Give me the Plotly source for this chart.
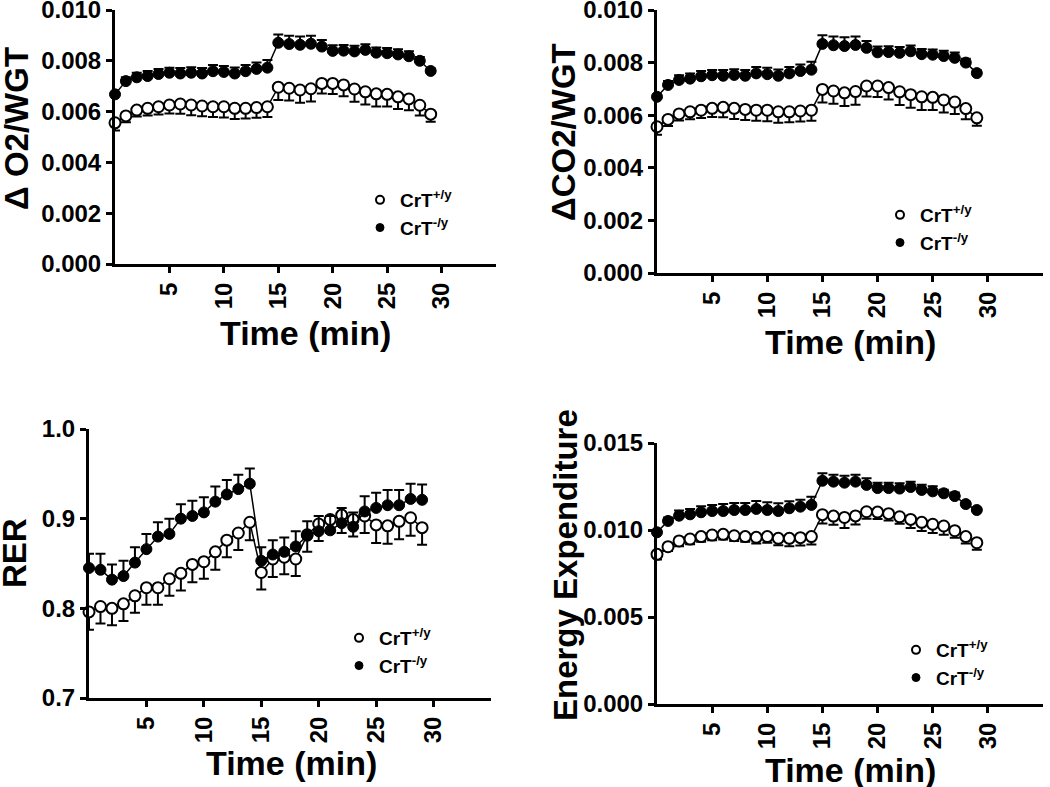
import plotly.graph_objects as go

W, H = 1050, 787
FONT = "Liberation Sans"

time_min = list(range(30))
legend_names = ["CrT<sup>+/y</sup>", "CrT<sup>-/y</sup>"]

# delta O2 / weight
o2_wt = [0.00556, 0.00583, 0.00606, 0.00613, 0.00619, 0.00626, 0.00630, 0.00626, 0.00622, 0.00619,
         0.00619, 0.00613, 0.00613, 0.00616, 0.00619, 0.00696, 0.00692, 0.00685, 0.00690, 0.00711,
         0.00711, 0.00705, 0.00689, 0.00678, 0.00670, 0.00668, 0.00658, 0.00650, 0.00625, 0.00590]
o2_wt_err = [0.00030, 0.00025, 0.00025, 0.00028, 0.00030, 0.00033, 0.00038, 0.00040, 0.00040, 0.00040,
             0.00042, 0.00042, 0.00040, 0.00040, 0.00040, 0.00050, 0.00048, 0.00050, 0.00050, 0.00040,
             0.00042, 0.00045, 0.00050, 0.00050, 0.00050, 0.00048, 0.00048, 0.00045, 0.00040, 0.00030]
o2_ko = [0.00668, 0.00720, 0.00735, 0.00740, 0.00748, 0.00753, 0.00750, 0.00753, 0.00750, 0.00759,
         0.00756, 0.00750, 0.00759, 0.00768, 0.00773, 0.00871, 0.00866, 0.00863, 0.00867, 0.00856,
         0.00839, 0.00840, 0.00837, 0.00843, 0.00832, 0.00830, 0.00825, 0.00818, 0.00800, 0.00760]
o2_ko_err = [0.00008, 0.00015, 0.00018, 0.00020, 0.00020, 0.00020, 0.00022, 0.00022, 0.00022, 0.00024,
             0.00024, 0.00024, 0.00024, 0.00025, 0.00030, 0.00033, 0.00033, 0.00033, 0.00032, 0.00026,
             0.00022, 0.00022, 0.00022, 0.00022, 0.00020, 0.00020, 0.00020, 0.00020, 0.00015, 0.00010]

# delta CO2 / weight
co2_wt = [0.00556, 0.00584, 0.00605, 0.00613, 0.00619, 0.00626, 0.00630, 0.00626, 0.00622, 0.00619,
          0.00619, 0.00613, 0.00613, 0.00616, 0.00619, 0.00698, 0.00692, 0.00685, 0.00690, 0.00711,
          0.00711, 0.00705, 0.00689, 0.00678, 0.00670, 0.00668, 0.00658, 0.00650, 0.00625, 0.00590]
co2_wt_err = [0.00030, 0.00025, 0.00025, 0.00028, 0.00030, 0.00033, 0.00038, 0.00040, 0.00040, 0.00040,
              0.00042, 0.00042, 0.00040, 0.00040, 0.00040, 0.00050, 0.00048, 0.00050, 0.00050, 0.00040,
              0.00042, 0.00045, 0.00050, 0.00050, 0.00050, 0.00048, 0.00048, 0.00045, 0.00040, 0.00030]
co2_ko = [0.00670, 0.00715, 0.00734, 0.00739, 0.00748, 0.00752, 0.00750, 0.00753, 0.00750, 0.00759,
          0.00756, 0.00750, 0.00759, 0.00768, 0.00773, 0.00871, 0.00866, 0.00863, 0.00867, 0.00856,
          0.00839, 0.00840, 0.00837, 0.00843, 0.00832, 0.00830, 0.00825, 0.00818, 0.00800, 0.00760]
co2_ko_err = [0.00008, 0.00015, 0.00018, 0.00020, 0.00020, 0.00020, 0.00022, 0.00022, 0.00022, 0.00024,
              0.00024, 0.00024, 0.00024, 0.00025, 0.00030, 0.00033, 0.00033, 0.00033, 0.00032, 0.00026,
              0.00022, 0.00022, 0.00022, 0.00022, 0.00020, 0.00020, 0.00020, 0.00020, 0.00015, 0.00010]

# respiratory exchange ratio
rer_wt = [0.796, 0.802, 0.800, 0.805, 0.814, 0.823, 0.823, 0.833, 0.839, 0.849,
          0.852, 0.863, 0.876, 0.884, 0.896, 0.840, 0.855, 0.857, 0.855, 0.882,
          0.894, 0.899, 0.904, 0.899, 0.903, 0.893, 0.892, 0.897, 0.901, 0.890]
rer_wt_err = [0.020, 0.019, 0.019, 0.019, 0.019, 0.019, 0.019, 0.019, 0.019, 0.020,
              0.019, 0.020, 0.019, 0.019, 0.020, 0.019, 0.020, 0.019, 0.019, 0.019,
              0.019, 0.015, 0.020, 0.019, 0.019, 0.020, 0.020, 0.020, 0.020, 0.019]
rer_ko = [0.845, 0.843, 0.832, 0.836, 0.851, 0.866, 0.880, 0.883, 0.900, 0.903,
          0.907, 0.919, 0.927, 0.933, 0.939, 0.853, 0.860, 0.863, 0.869, 0.881,
          0.886, 0.887, 0.895, 0.891, 0.908, 0.912, 0.915, 0.915, 0.922, 0.921]
rer_ko_err = [0.016, 0.018, 0.017, 0.017, 0.017, 0.017, 0.016, 0.017, 0.016, 0.017,
              0.017, 0.017, 0.016, 0.016, 0.017, 0.015, 0.016, 0.016, 0.017, 0.016,
              0.017, 0.016, 0.017, 0.016, 0.017, 0.017, 0.017, 0.017, 0.017, 0.017]

# energy expenditure
ee_wt = [0.00860, 0.00904, 0.00937, 0.00948, 0.00962, 0.00971, 0.00975, 0.00967, 0.00962, 0.00958,
         0.00962, 0.00952, 0.00952, 0.00956, 0.00962, 0.01088, 0.01080, 0.01072, 0.01081, 0.01105,
         0.01103, 0.01094, 0.01076, 0.01061, 0.01044, 0.01033, 0.01023, 0.00996, 0.00962, 0.00927]
ee_wt_err = [0.00030, 0.00025, 0.00030, 0.00030, 0.00030, 0.00030, 0.00030, 0.00030, 0.00030, 0.00035,
             0.00035, 0.00040, 0.00045, 0.00045, 0.00045, 0.00050, 0.00050, 0.00060, 0.00050, 0.00040,
             0.00040, 0.00040, 0.00040, 0.00050, 0.00050, 0.00050, 0.00050, 0.00040, 0.00040, 0.00040]
ee_ko = [0.00987, 0.01052, 0.01082, 0.01090, 0.01102, 0.01109, 0.01109, 0.01115, 0.01115, 0.01121,
         0.01115, 0.01109, 0.01125, 0.01134, 0.01144, 0.01283, 0.01278, 0.01272, 0.01278, 0.01259,
         0.01241, 0.01241, 0.01238, 0.01247, 0.01230, 0.01222, 0.01211, 0.01195, 0.01149, 0.01115]
ee_ko_err = [0.00010, 0.00020, 0.00030, 0.00030, 0.00035, 0.00035, 0.00040, 0.00040, 0.00040, 0.00045,
             0.00045, 0.00045, 0.00040, 0.00040, 0.00047, 0.00043, 0.00040, 0.00040, 0.00040, 0.00038,
             0.00030, 0.00030, 0.00030, 0.00030, 0.00030, 0.00030, 0.00020, 0.00020, 0.00010, 0.00010]

x_ticks = [5, 10, 15, 20, 25, 30]


def px_x(left, right):
    return [left / W, right / W]


def px_y(top, bottom):
    return [1 - bottom / H, 1 - top / H]


# pixel layout of each panel
panels = [
    dict(wt=o2_wt, wt_err=o2_wt_err, ko=o2_ko, ko_err=o2_ko_err,
         xpx=(115, 496), ypx=(10, 264), yrange=[0, 0.010],
         yticks=[0, 0.002, 0.004, 0.006, 0.008, 0.010], fmt=".3f",
         ytitle="Δ O2/WGT", ytitle_xy=(16, 129), xtitle_xy=(305, 333),
         legend_xy=(360, 181)),
    dict(wt=co2_wt, wt_err=co2_wt_err, ko=co2_ko, ko_err=co2_ko_err,
         xpx=(657, 1043), ypx=(10, 273), yrange=[0, 0.010],
         yticks=[0, 0.002, 0.004, 0.006, 0.008, 0.010], fmt=".3f",
         ytitle="ΔCO2/WGT", ytitle_xy=(563, 132), xtitle_xy=(850, 342),
         legend_xy=(880, 196)),
    dict(wt=rer_wt, wt_err=rer_wt_err, ko=rer_ko, ko_err=rer_ko_err,
         xpx=(89, 491), ypx=(429, 698), yrange=[0.7, 1.0],
         yticks=[0.7, 0.8, 0.9, 1.0], fmt=".1f",
         ytitle="RER", ytitle_xy=(14, 553), xtitle_xy=(291, 763),
         legend_xy=(339, 619)),
    dict(wt=ee_wt, wt_err=ee_wt_err, ko=ee_ko, ko_err=ee_ko_err,
         xpx=(657, 1043), ypx=(443, 704), yrange=[0, 0.015],
         yticks=[0, 0.005, 0.010, 0.015], fmt=".3f",
         ytitle="Energy Expenditure", ytitle_xy=(565, 565), xtitle_xy=(850, 770),
         legend_xy=(896, 631)),
]

fig = go.Figure()
annotations = []
layout = {}

for i, p in enumerate(panels):
    n = "" if i == 0 else str(i + 1)
    xref, yref = "x" + n, "y" + n
    leg = "legend" + n

    open_marker = dict(symbol="circle", size=11, color="white", line=dict(color="black", width=2))
    filled_marker = dict(symbol="circle", size=11, color="black", line=dict(color="black", width=1))

    # CrT+/y : open circles, error bars below
    fig.add_trace(go.Scatter(
        x=time_min, y=p["wt"], mode="lines+markers", xaxis=xref, yaxis=yref,
        line=dict(color="black", width=1.5), marker=open_marker, cliponaxis=False,
        error_y=dict(type="data", symmetric=False, array=[0] * len(p["wt"]),
                     arrayminus=p["wt_err"], color="black", thickness=2, width=5),
        showlegend=False,
    ))
    # CrT-/y : filled circles, error bars above
    fig.add_trace(go.Scatter(
        x=time_min, y=p["ko"], mode="lines+markers", xaxis=xref, yaxis=yref,
        line=dict(color="black", width=1.5), marker=filled_marker, cliponaxis=False,
        error_y=dict(type="data", symmetric=False, array=p["ko_err"],
                     arrayminus=[0] * len(p["ko"]), color="black", thickness=2, width=5),
        showlegend=False,
    ))
    # legend keys
    for name, mk in zip(legend_names, [open_marker, filled_marker]):
        fig.add_trace(go.Scatter(
            x=[None], y=[None], mode="markers", name=name, xaxis=xref, yaxis=yref,
            marker=dict(mk, size=8), legend=leg,
        ))

    axis_common = dict(
        showline=True, linecolor="black", linewidth=3, ticks="outside",
        ticklen=6, tickwidth=3, tickcolor="black", showgrid=False, zeroline=False,
        automargin=False, ticklabeloverflow="allow",
        tickfont=dict(family=FONT, size=24, color="black", weight="bold"),
    )
    layout["xaxis" + n] = dict(
        axis_common, domain=px_x(*p["xpx"]), range=[0, 35], tickvals=x_ticks,
        tickangle=-90, anchor=yref,
    )
    layout["yaxis" + n] = dict(
        axis_common, domain=px_y(*p["ypx"]), range=p["yrange"], tickvals=p["yticks"],
        tickformat=p["fmt"], anchor=xref,
    )
    layout[leg] = dict(
        x=p["legend_xy"][0] / W, y=1 - p["legend_xy"][1] / H, xanchor="left", yanchor="top",
        bgcolor="rgba(0,0,0,0)", itemwidth=30, tracegroupgap=0,
        font=dict(family=FONT, size=19, color="black", weight="bold"),
    )

    annotations.append(dict(
        text="Time (min)", xref="paper", yref="paper", showarrow=False,
        x=p["xtitle_xy"][0] / W, y=1 - p["xtitle_xy"][1] / H,
        xanchor="center", yanchor="middle",
        font=dict(family=FONT, size=34, color="black", weight="bold"),
    ))
    annotations.append(dict(
        text=p["ytitle"], xref="paper", yref="paper", showarrow=False, textangle=-90,
        x=p["ytitle_xy"][0] / W, y=1 - p["ytitle_xy"][1] / H,
        xanchor="center", yanchor="middle",
        font=dict(family=FONT, size=33, color="black", weight="bold"),
    ))

fig.update_layout(
    template="none",
    width=W, height=H,
    margin=dict(l=0, r=0, t=0, b=0, autoexpand=False),
    paper_bgcolor="white", plot_bgcolor="white",
    annotations=annotations,
    **layout,
)
fig.update_xaxes(tickangle=-90)

# drop the browser's default body margin so the figure sits at the page corner
fig.write_html(
    "out.html",
    config={"displayModeBar": False},
    post_script="document.body.style.margin='0px';",
)
